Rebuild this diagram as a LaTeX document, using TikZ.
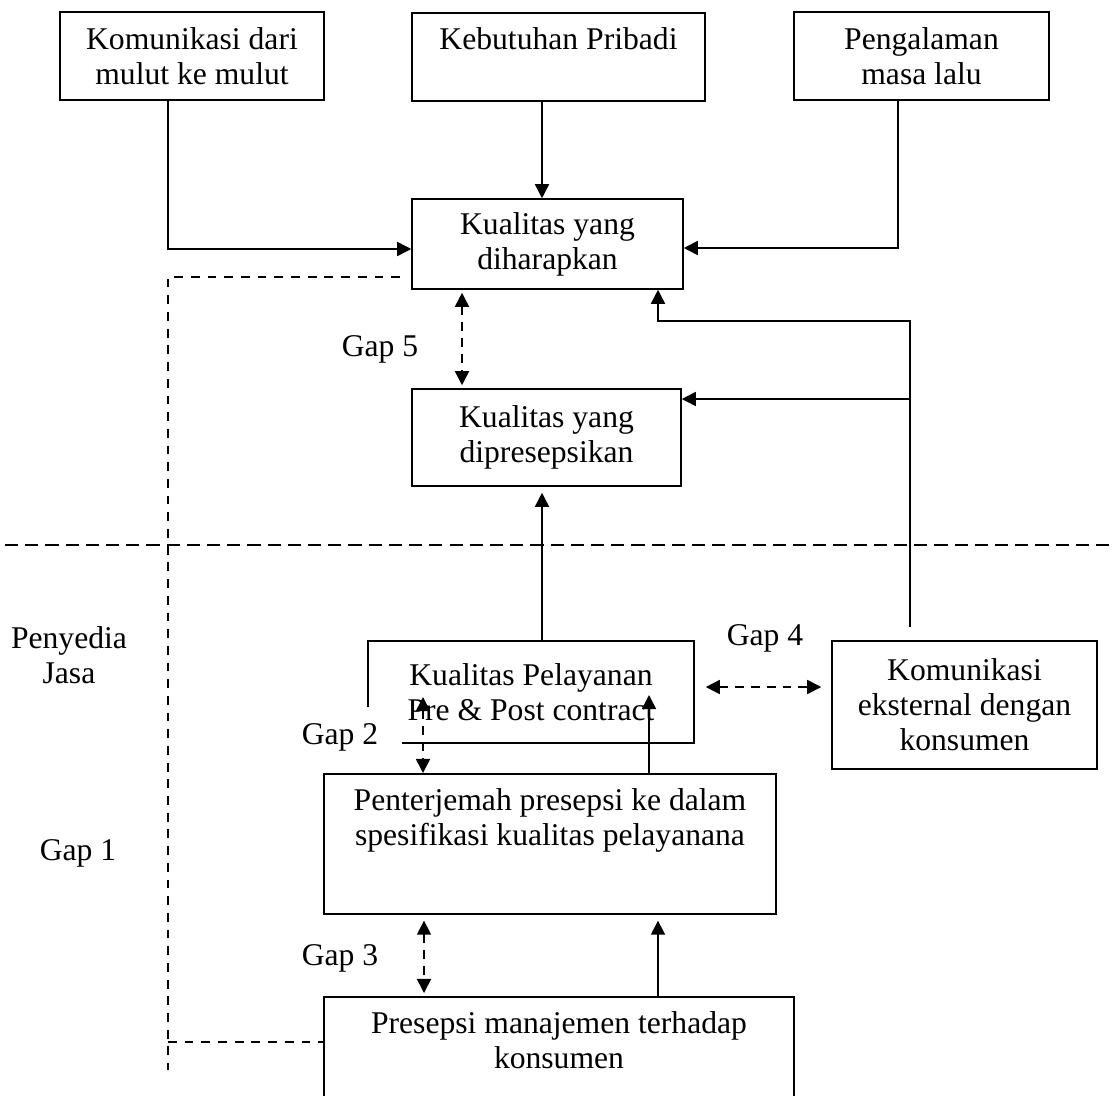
\documentclass[tikz,border=0pt]{standalone}
\usepackage{fontspec}
\setmainfont{Liberation Serif}
\usetikzlibrary{arrows.meta, positioning, calc}

\begin{document}
\begin{tikzpicture}[
    x=0.02cm, y=-0.02cm,
    font=\fontsize{18}{20}\selectfont,
    box/.style={rectangle, draw, line width=0.9pt, align=center, inner sep=0pt},
    topbox/.style={box, anchor=north, inner ysep=0.3cm},
    arrow/.style={line width=0.9pt, -{Triangle[length=8pt,width=8pt]}},
    gaparrow/.style={line width=0.9pt, dash pattern=on 5pt off 4pt, {Triangle[length=8pt,width=8pt]}-{Triangle[length=8pt,width=8pt]}},
    gapline/.style={line width=0.9pt, dash pattern=on 5pt off 4.5pt},
    sepline/.style={line width=1.3pt, dash pattern=on 7.5pt off 4pt},
    gaplabel/.style={align=center}
]
\useasboundingbox (0,0) rectangle (1114,1095);
\clip (0,0) rectangle (1114,1095);

% Nodes
\node (mulut) [box, minimum width=5.28cm, minimum height=1.76cm] at (192,56) {Komunikasi dari\\mulut ke mulut};
\node (pribadi) [topbox, minimum width=5.86cm, text depth=0.72cm] at (558.5,12) {Kebutuhan Pribadi};
\node (pengalaman) [box, minimum width=5.10cm, minimum height=1.76cm] at (921.5,56) {Pengalaman\\masa lalu};
\node (harapan) [box, minimum width=5.42cm, minimum height=1.80cm] at (547.5,244) {Kualitas yang\\diharapkan};
\node (persepsi) [box, minimum width=5.38cm, minimum height=1.94cm] at (546.5,437.5) {Kualitas yang\\dipresepsikan};
\node (pelayanan) [box, minimum width=6.52cm, minimum height=2.04cm] at (531,692) {Kualitas Pelayanan\\Pre \& Post contract};
\node (eksternal) [box, minimum width=5.30cm, minimum height=2.56cm] at (964.5,705) {Komunikasi\\eksternal dengan\\konsumen};
\node (penterjemah) [topbox, minimum width=9.04cm, text depth=1.06cm] at (550,773) {Penterjemah presepsi ke dalam\\spesifikasi kualitas pelayanana};
\node (manajemen) [topbox, minimum width=9.40cm, text depth=3cm] at (559,996) {Presepsi manajemen terhadap\\konsumen};

\node (penyedia) [gaplabel] at (69,655) {Penyedia\\Jasa};
\node (gap1) [gaplabel] at (78,853) {Gap 1};
\node (gap2) [gaplabel, fill=white, minimum width=2.5cm, minimum height=1.2cm] at (340,737) {Gap 2};
\node (gap3) [gaplabel] at (340,958) {Gap 3};
\node (gap4) [gaplabel] at (765,638) {Gap 4};
\node (gap5) [gaplabel] at (380,349) {Gap 5};

% Points
\coordinate (kL) at (168,249);
\coordinate (kM) at (542,150);
\coordinate (pR) at (898,248);
\coordinate (eT) at (910,321);
\coordinate (hB) at (658,321);
\coordinate (eM) at (910,399);
\coordinate (g5) at (462,340);
\coordinate (lM) at (542,560);
\coordinate (g4) at (760,687);
\coordinate (g2) at (423,697);
\coordinate (tU) at (649,695);
\coordinate (g3) at (424,955);
\coordinate (mU) at (658,955);
\coordinate (dA) at (400,277);
\coordinate (dB) at (168,1070);
\coordinate (dC) at (168,1042);
\coordinate (sL) at (5,545);
\coordinate (sR) at (1114,545);

% Arrows
\draw [arrow] (mulut.south -| kL) |- (harapan.west |- kL);
\draw [arrow] (pribadi.south -| kM) -- (harapan.north -| kM);
\draw [arrow] (pengalaman.south -| pR) |- (harapan.east |- pR);
\draw [arrow, shorten <=0.26cm] (eksternal.north -| eT) -- (eT) -- (hB) -- (harapan.south -| hB);
\draw [arrow] (eM) -- (persepsi.east |- eM);
\draw [gaparrow, shorten <=0.06cm, shorten >=0.06cm] (harapan.south -| g5) -- (persepsi.north -| g5);
\draw [arrow, shorten >=0.12cm] (pelayanan.north -| lM) -- (persepsi.south -| lM);
\draw [gaparrow, shorten <=0.22cm, shorten >=0.2cm] (pelayanan.east |- g4) -- (eksternal.west |- g4);
\draw [gaparrow] (g2) -- (penterjemah.north -| g2);
\draw [arrow] (penterjemah.north -| tU) -- (tU);
\draw [gaparrow, shorten <=0.12cm, shorten >=0.06cm] (penterjemah.south -| g3) -- (manajemen.north -| g3);
\draw [arrow, shorten >=0.12cm] (manajemen.north -| mU) -- (penterjemah.south -| mU);

% Dashed lines
\draw [gapline] (dA) -| (dB);
\draw [gapline] (dC) -- (manajemen.west |- dC);
\draw [sepline] (sL) -- (sR);

\end{tikzpicture}
\end{document}
